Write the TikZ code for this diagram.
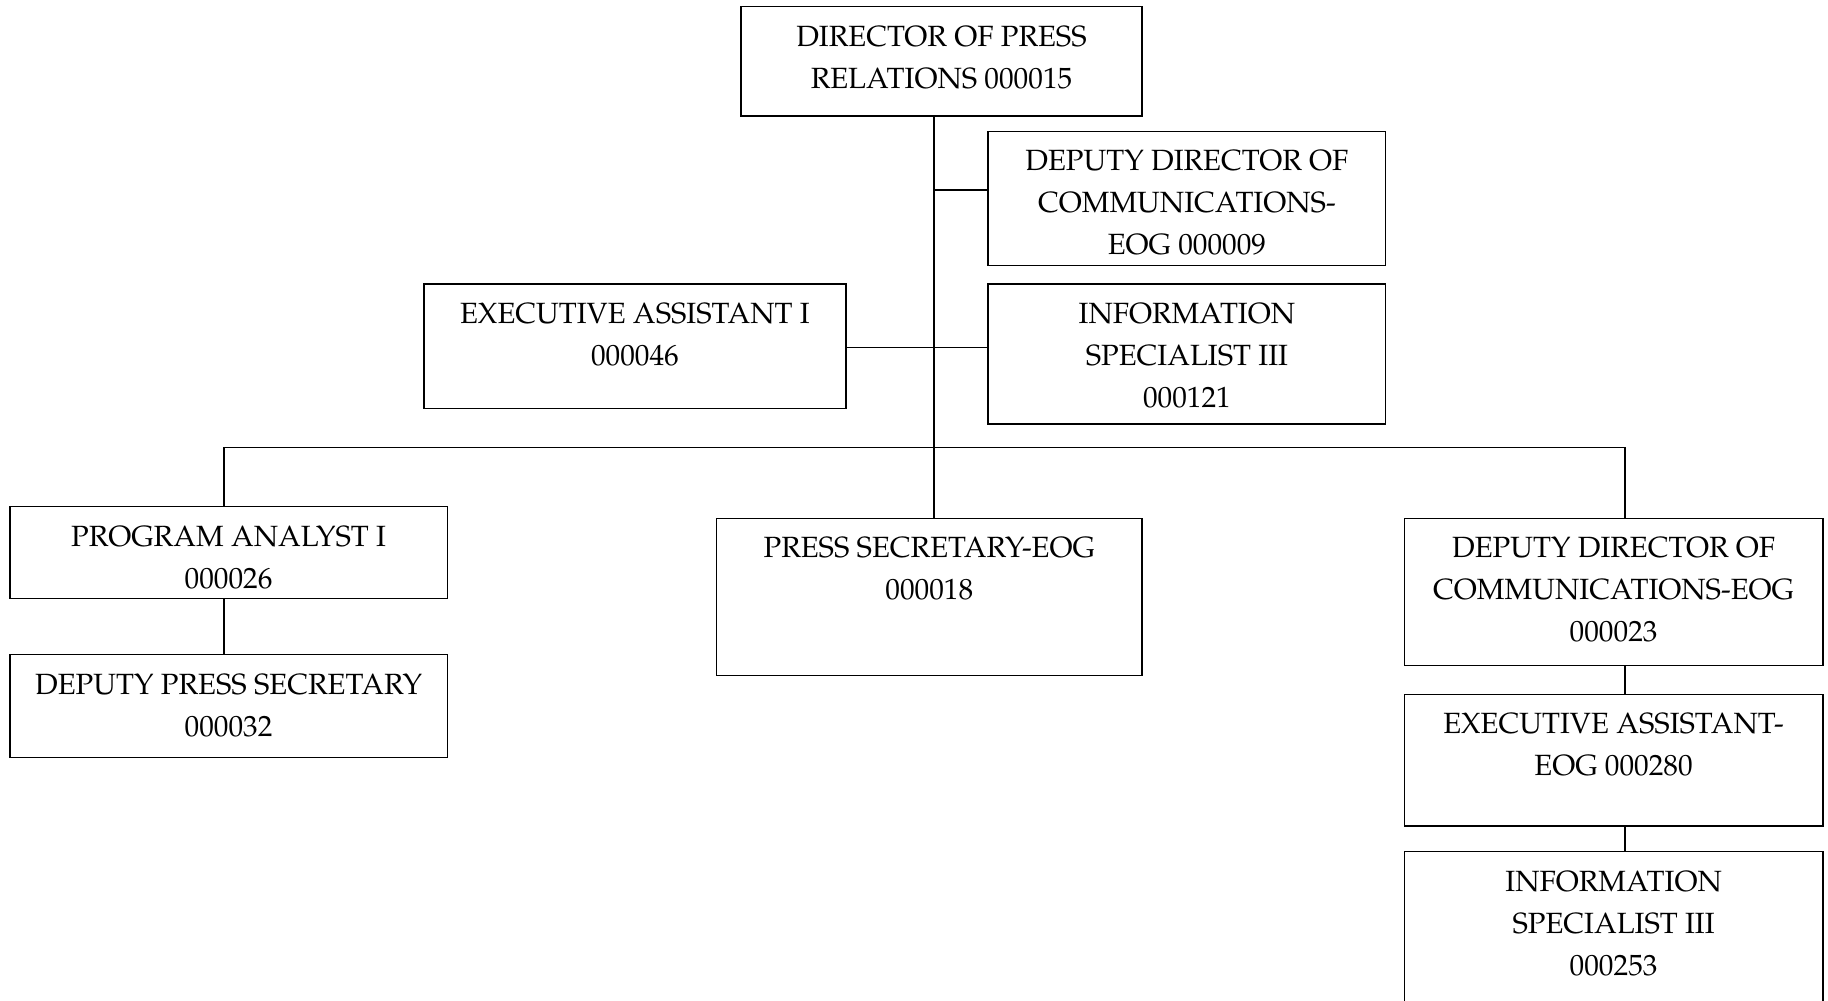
\documentclass[tikz,border=0pt]{standalone}
\usepackage[T1]{fontenc}
\usepackage{mathpazo}
\newcommand\orgtext[1]{\parbox[t]{420pt}{\centering #1}}
\begin{document}
\begin{tikzpicture}[x=1pt,y=-1pt,
  orgbox/.style={draw=black,line width=1.2pt,rectangle,inner sep=0pt,anchor=north west},
  orglabel/.style={anchor=base,inner sep=0pt,font=\fontsize{25.1}{36}\selectfont},
  link/.style={draw=black,line width=1.2pt}]
\useasboundingbox (0,0) rectangle (1568,858);

% boxes: north-west corner, width and height
\node[orgbox,minimum width=344pt,minimum height=94pt]  (dir)  at (635,5)   {};
\node[orgbox,minimum width=341pt,minimum height=115pt] (dep1) at (847,112) {};
\node[orgbox,minimum width=341pt,minimum height=120pt] (inf1) at (847,243) {};
\node[orgbox,minimum width=362pt,minimum height=107pt] (ea1)  at (363,243) {};
\node[orgbox,minimum width=375pt,minimum height=79pt]  (pa)   at (8,434)   {};
\node[orgbox,minimum width=375pt,minimum height=88pt]  (dps)  at (8,561)   {};
\node[orgbox,minimum width=365pt,minimum height=135pt] (ps)   at (614,444) {};
\node[orgbox,minimum width=359pt,minimum height=126pt] (dep2) at (1204,444) {};
\node[orgbox,minimum width=359pt,minimum height=113pt] (eog)  at (1204,595) {};
\node[orgbox,minimum width=359pt,minimum height=150pt] (inf2) at (1204,730) {};

% titles, first baseline a fixed distance below each box top
\node[orglabel] (dir-t)  at ([yshift=-34.5pt]dir.north)  {\orgtext{DIRECTOR OF PRESS\\RELATIONS 000015}};
\node[orglabel] (dep1-t) at ([yshift=-34.5pt]dep1.north) {\orgtext{DEPUTY DIRECTOR OF\\COMMUNICATIONS-\\EOG 000009}};
\node[orglabel] (inf1-t) at ([yshift=-34.5pt]inf1.north) {\orgtext{INFORMATION\\SPECIALIST III\\000121}};
\node[orglabel] (ea1-t)  at ([yshift=-34.5pt]ea1.north)  {\orgtext{EXECUTIVE ASSISTANT I\\000046}};
\node[orglabel] (pa-t)   at ([yshift=-34.5pt]pa.north)   {\orgtext{PROGRAM ANALYST I\\000026}};
\node[orglabel] (dps-t)  at ([yshift=-34.5pt]dps.north)  {\orgtext{DEPUTY PRESS SECRETARY\\000032}};
\node[orglabel] (ps-t)   at ([yshift=-34.5pt]ps.north)   {\orgtext{PRESS SECRETARY-EOG\\000018}};
\node[orglabel] (dep2-t) at ([yshift=-34.5pt]dep2.north) {\orgtext{DEPUTY DIRECTOR OF\\COMMUNICATIONS-EOG\\000023}};
\node[orglabel] (eog-t)  at ([yshift=-34.5pt]eog.north)  {\orgtext{EXECUTIVE ASSISTANT-\\EOG 000280}};
\node[orglabel] (inf2-t) at ([yshift=-34.5pt]inf2.north) {\orgtext{INFORMATION\\SPECIALIST III\\000253}};

% junction points of the connector lines
\coordinate (tk) at (801,0);
\coordinate (j1) at (801,163);
\coordinate (j2) at (801,298);
\coordinate (bl) at (192,384);
\coordinate (br) at (1394,384);

% trunk and side branches
\draw[link] (dir.south -| tk) -- (ps.north -| tk);
\draw[link] (j1) -- (j1 -| dep1.west);
\draw[link] (ea1.east |- j2) -- (inf1.west |- j2);

% horizontal bar to the outer columns
\draw[link] (pa.north -| bl) -- (bl) -- (br) -- (dep2.north -| br);
\draw[link] (pa.south -| bl) -- (dps.north -| bl);
\draw[link] (dep2.south -| br) -- (eog.north -| br);
\draw[link] (eog.south -| br) -- (inf2.north -| br);
\end{tikzpicture}
\end{document}
